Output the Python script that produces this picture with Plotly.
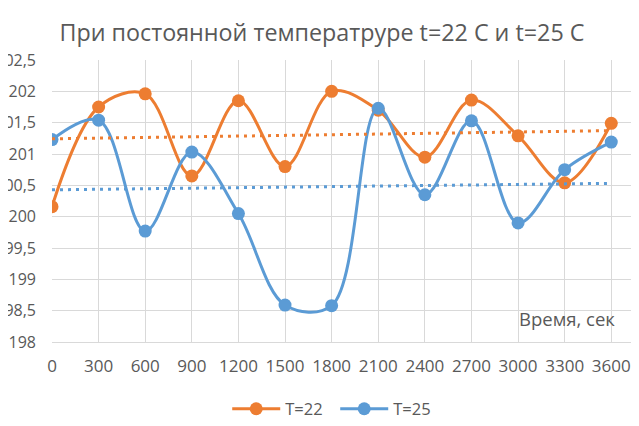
import numpy as np
import plotly.graph_objects as go

################################################################################
# Data

time_sec = [0, 300, 600, 900, 1200, 1500, 1800, 2100, 2400, 2700, 3000, 3300, 3600]
t22 = [200.16, 201.75, 201.96, 200.65, 201.85, 200.80, 202.00, 201.70, 200.95, 201.86, 201.29, 200.54, 201.49]
t25 = [201.23, 201.54, 199.77, 201.03, 200.05, 198.59, 198.58, 201.73, 200.35, 201.53, 199.90, 200.75, 201.19]

names = ["T=22", "T=25"]
colors = ["#ED7D31", "#5B9BD5"]

title_text = "При постоянной температруре t=22 C и t=25 C"
xlabel_text = "Время, сек"

################################################################################
# Figure
# (the page body adds an 8px offset, so everything below is placed 8px up/left)

font_name = "Open Sans"
grey = "#595959"

fig = go.Figure()

for name, vals, col in zip(names, [t22, t25], colors):
    fig.add_trace(go.Scatter(
        x=time_sec, y=vals, name=name, mode="lines+markers",
        line=dict(color=col, width=3, shape="spline", smoothing=1),
        marker=dict(color=col, size=13),
    ))

# linear trend lines (Excel-style), fitted on the same data
xs = np.array(time_sec, dtype=float)
for vals, col in zip([t22, t25], colors):
    k, b = np.polyfit(xs, np.array(vals), 1)
    fig.add_trace(go.Scatter(
        x=[xs[0], xs[-1]], y=[k * xs[0] + b, k * xs[-1] + b],
        mode="lines", showlegend=False, hoverinfo="skip",
        line=dict(color=col, width=3, dash="3px,5px"),
    ))

fig.update_layout(
    width=639, height=426,
    margin=dict(l=44, r=0, t=52, b=92, autoexpand=False),
    paper_bgcolor="white", plot_bgcolor="white",
    separators=", ",
    font=dict(family=font_name, color=grey, size=17),
    title=dict(text=title_text, x=314 / 639, xanchor="center", y=1 - 25 / 426,
               yanchor="middle", yref="container",
               font=dict(family=font_name, size=23.3, color=grey)),
    legend=dict(orientation="h", x=0.476, xanchor="center", y=-0.2376, yanchor="middle",
                font=dict(size=16.5, color=grey), traceorder="normal",
                itemwidth=48, entrywidth=45),
    showlegend=True,
)

fig.update_xaxes(
    range=[0, 3830], tick0=0, dtick=300,
    showgrid=True, gridcolor="#D9D9D9", gridwidth=1,
    showline=True, linecolor="#D9D9D9", zeroline=False, automargin=False,
    ticks="", tickfont=dict(size=17, color=grey), ticklabelstandoff=9,
)
fig.update_yaxes(
    range=[198, 202.5], dtick=0.5, tick0=198,
    showgrid=True, gridcolor="#D9D9D9", gridwidth=1,
    showline=False, zeroline=False, automargin=False,
    ticks="", tickfont=dict(size=16, color=grey), ticklabelstandoff=15,
)

fig.add_annotation(text=xlabel_text, x=3315, y=198.37, xref="x", yref="y",
                   showarrow=False, font=dict(size=18.5, color=grey))
# the next tick label past the right edge, only partly visible
fig.add_annotation(text="3900", x=1.0134, xref="paper", y=-26 / 282, yref="paper",
                   xanchor="center", yanchor="middle",
                   showarrow=False, font=dict(size=17, color=grey))

fig.write_html("out.html")
